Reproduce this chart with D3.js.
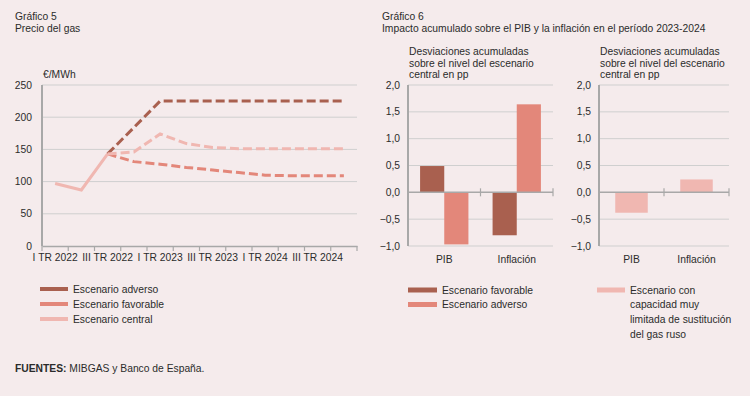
<!DOCTYPE html>
<html>
<head>
<meta charset="utf-8">
<script src="https://d3js.org/d3.v7.min.js"></script>
<style>
  body { margin: 0; background: #f5ebec; }
  svg { display: block; font-family: "Liberation Sans", Arial, sans-serif; }
  text { fill: #2b2b2b; }
</style>
</head>
<body>
<svg id="chart" width="750" height="396"></svg>
<script>
// Gráfico 5: precio del gas (€/MWh), trimestral 2022-2024
const quarters = ["I TR 2022", "II TR 2022", "III TR 2022", "IV TR 2022",
                  "I TR 2023", "II TR 2023", "III TR 2023", "IV TR 2023",
                  "I TR 2024", "II TR 2024", "III TR 2024", "IV TR 2024"];
const historico = [97, 87, 143];                 // tramo observado (línea continua)
const central   = [null, null, 143, 146, 174, 159, 153, 151, 151, 151, 151, 151];
const favorable = [null, null, 143, 131, 127, 122, 118, 114, 110, 109, 109, 109];
const adverso   = [null, null, 143, 184, 225, 225, 225, 225, 225, 225, 225, 225];
const gasTicks = [0, 50, 100, 150, 200, 250];

// Gráfico 6: desviaciones acumuladas (pp)
const categorias = ["PIB", "Inflación"];
const impFavorable = [0.49, -0.80];
const impAdverso   = [-0.97, 1.64];
const impRuso      = [-0.38, 0.24];
const impTicks = [-1, -0.5, 0, 0.5, 1, 1.5, 2];

const colAdv = "#a9604f", colFav = "#e3877a", colCen = "#f0b7b1";
const gridCol = "#cfcfcf", axisCol = "#a8a8a8";
const FS = "10.3px";

const svg = d3.select("#chart");
const fmt = d => d3.format(".1f")(d).replace(".", ",");

function label(x, y, t, opts = {}) {
  const el = svg.append("text").attr("x", x).attr("y", y)
    .style("font-size", FS)
    .attr("text-anchor", opts.anchor || "start").text(t);
  if (opts.bold) el.style("font-weight", "bold");
  return el;
}

// ---------- Gráfico 5 ----------
label(15, 20, "Gráfico 5");
label(15, 32, "Precio del gas");
label(43, 78, "€/MWh");

const x5 = d3.scaleBand().domain(quarters).range([42, 357]);
const y5 = d3.scaleLinear().domain([0, 250]).range([246, 85]);

const g5 = svg.append("g");
g5.selectAll("line.grid").data(gasTicks.filter(d => d > 0)).join("line")
  .attr("x1", 42).attr("x2", 357)
  .attr("y1", d => y5(d)).attr("y2", d => y5(d))
  .attr("stroke", gridCol).attr("stroke-width", 1);
g5.selectAll("text.yt").data(gasTicks).join("text")
  .attr("x", 32).attr("y", d => y5(d) + 3.5).attr("text-anchor", "end")
  .style("font-size", FS).text(d => d);
g5.append("line").attr("x1", 42).attr("x2", 42).attr("y1", 85).attr("y2", 246)
  .attr("stroke", axisCol).attr("stroke-width", 2);

const xAxis5 = d3.axisBottom(x5).tickSize(0).tickFormat(() => "");
const ax5 = g5.append("g").attr("transform", "translate(0,246)").call(xAxis5);
ax5.select(".domain").attr("stroke", axisCol).attr("stroke-width", 1.5);
// marcas entre trimestres
const edges = quarters.map(q => x5(q)).concat([357]);
ax5.selectAll("line.edge").data(edges).join("line")
  .attr("x1", d => d).attr("x2", d => d).attr("y1", 0).attr("y2", 5)
  .attr("stroke", axisCol).attr("stroke-width", 1.2);
ax5.selectAll("text.xl").data(quarters.filter((q, i) => i % 2 === 0)).join("text")
  .attr("x", d => x5(d) + x5.bandwidth() / 2).attr("y", 15)
  .attr("text-anchor", "middle").style("font-size", FS).text(d => d);

const line5 = d3.line()
  .defined(d => d.v != null)
  .x(d => x5(d.q) + x5.bandwidth() / 2)
  .y(d => y5(d.v));
const toPts = arr => arr.map((v, i) => ({ q: quarters[i], v }));

[[adverso, colAdv], [favorable, colFav], [central, colCen]].forEach(([arr, c]) => {
  g5.append("path").datum(toPts(arr)).attr("d", line5)
    .attr("fill", "none").attr("stroke", c).attr("stroke-width", 3)
    .attr("stroke-dasharray", "9,4");
});
g5.append("path").datum(toPts(historico)).attr("d", line5)
  .attr("fill", "none").attr("stroke", colCen).attr("stroke-width", 3);

const leg5 = [["Escenario adverso", colAdv], ["Escenario favorable", colFav], ["Escenario central", colCen]];
leg5.forEach(([t, c], i) => {
  const y = 289 + i * 15;
  svg.append("line").attr("x1", 40).attr("x2", 68).attr("y1", y).attr("y2", y)
    .attr("stroke", c).attr("stroke-width", 4);
  label(73, y + 3.5, t);
});

const src = label(15, 372, "");
src.append("tspan").style("font-weight", "bold").text("FUENTES:");
src.append("tspan").text(" MIBGAS y Banco de España.");

// ---------- Gráfico 6 ----------
label(382, 20, "Gráfico 6");
label(382, 32, "Impacto acumulado sobre el PIB y la inflación en el período 2023-2024");

const y6 = d3.scaleLinear().domain([-1, 2]).range([246, 85]);
const subt = ["Desviaciones acumuladas", "sobre el nivel del escenario", "central en pp"];

function panel(x0, x1, series) {
  const g = svg.append("g");
  subt.forEach((t, i) => label(x0 + 1, 55 + i * 11.5, t));
  g.selectAll("line.grid").data(impTicks.filter(d => d !== 0)).join("line")
    .attr("x1", x0).attr("x2", x1)
    .attr("y1", d => y6(d)).attr("y2", d => y6(d))
    .attr("stroke", gridCol).attr("stroke-width", 1);
  g.selectAll("text.yt").data(impTicks).join("text")
    .attr("x", x0 - 8).attr("y", d => y6(d) + 3.5).attr("text-anchor", "end")
    .style("font-size", FS).text(fmt);

  const xb = d3.scaleBand().domain(categorias).range([x0, x1]);
  const inner = d3.scaleBand().domain(series.map((s, i) => i))
    .range([0, xb.bandwidth()]).paddingInner(0).paddingOuter(0.5);
  series.forEach((s, si) => {
    g.selectAll("rect.s" + si).data(s.values).join("rect")
      .attr("x", (d, i) => xb(categorias[i]) + inner(si))
      .attr("width", inner.bandwidth())
      .attr("y", d => y6(Math.max(0, d)))
      .attr("height", d => Math.abs(y6(d) - y6(0)))
      .attr("fill", s.color);
  });

  g.append("line").attr("x1", x0).attr("x2", x1).attr("y1", y6(0)).attr("y2", y6(0))
    .attr("stroke", axisCol).attr("stroke-width", 1.5);
  [x0 + xb.bandwidth(), x1].forEach(x => {
    g.append("line").attr("x1", x).attr("x2", x).attr("y1", y6(0) - 4).attr("y2", y6(0) + 4)
      .attr("stroke", axisCol).attr("stroke-width", 1.2);
  });
  g.append("line").attr("x1", x0).attr("x2", x0).attr("y1", 85).attr("y2", 246)
    .attr("stroke", axisCol).attr("stroke-width", 2);
  g.selectAll("text.cat").data(categorias).join("text")
    .attr("x", d => xb(d) + xb.bandwidth() / 2).attr("y", 263)
    .attr("text-anchor", "middle").style("font-size", FS).text(d => d);
}

panel(408, 553, [{ values: impFavorable, color: colAdv }, { values: impAdverso, color: colFav }]);
panel(599, 729, [{ values: impRuso, color: colCen }]);

const leg6 = [["Escenario favorable", colAdv], ["Escenario adverso", colFav]];
leg6.forEach(([t, c], i) => {
  const y = 290 + i * 14.5;
  svg.append("line").attr("x1", 408).attr("x2", 437).attr("y1", y).attr("y2", y)
    .attr("stroke", c).attr("stroke-width", 5);
  label(442, y + 3.5, t);
});
svg.append("line").attr("x1", 597).attr("x2", 625).attr("y1", 290).attr("y2", 290)
  .attr("stroke", colCen).attr("stroke-width", 5);
["Escenario con", "capacidad muy", "limitada de sustitución", "del gas ruso"].forEach((t, i) => {
  label(630, 293.5 + i * 14.7, t);
});
</script>
</body>
</html>
